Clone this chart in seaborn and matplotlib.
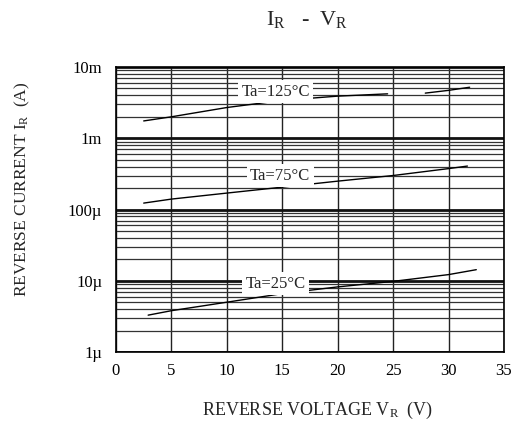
import numpy as np
import pandas as pd
import seaborn as sns
import matplotlib
matplotlib.use("Agg")
import matplotlib.pyplot as plt
from matplotlib.ticker import FixedLocator, LogLocator, NullFormatter

# ---- data ----
v_125 = [2.5, 5, 10, 15, 20, 24.5, 27.9, 30, 31.9]
i_125 = [1.75e-3, 2.0e-3, 2.7e-3, 3.4e-3, 3.9e-3, 4.2e-3, 4.3e-3, 4.7e-3, 5.2e-3]
seg_125 = [0, 0, 0, 0, 0, 0, 1, 1, 1]

v_75 = [2.5, 5, 10, 15, 20, 25, 30, 31.7]
i_75 = [1.23e-4, 1.4e-4, 1.7e-4, 2.06e-4, 2.5e-4, 3.0e-4, 3.75e-4, 4.07e-4]

v_25 = [2.9, 5, 10, 15, 20, 25, 30, 32.5]
i_25 = [3.29e-6, 3.8e-6, 5.0e-6, 6.6e-6, 8.2e-6, 9.8e-6, 1.22e-5, 1.43e-5]

labels = ["Ta=125°C", "Ta=75°C", "Ta=25°C"]
label_pos_v = [14.4, 14.8, 14.4]
label_pos_i = [4.5e-3, 3.0e-4, 9.1e-6]

x_ticks = [0, 5, 10, 15, 20, 25, 30, 35]
y_ticks = [1e-6, 1e-5, 1e-4, 1e-3, 1e-2]
y_ticklabels = ["1µ", "10µ", "100µ", "1m", "10m"]

df = pd.concat([
    pd.DataFrame({"V": v_125, "I": i_125, "series": labels[0], "seg": [f"a{s}" for s in seg_125]}),
    pd.DataFrame({"V": v_75, "I": i_75, "series": labels[1], "seg": "b0"}),
    pd.DataFrame({"V": v_25, "I": i_25, "series": labels[2], "seg": "c0"}),
], ignore_index=True)

sns.set_theme(style="white")
plt.rcParams["font.family"] = ["Liberation Serif", "DejaVu Serif"]
plt.rcParams["mathtext.fontset"] = "custom"
plt.rcParams["mathtext.rm"] = "Liberation Serif"
plt.rcParams["mathtext.it"] = "Liberation Serif"

fig = plt.figure(figsize=(5.22, 4.25), dpi=100)
ax = fig.add_axes([116 / 522, 73 / 425, 388 / 522, 285 / 425])

ax.set_yscale("log")
ax.set_xlim(0, 35)
ax.set_ylim(1e-6, 1e-2)

# grid
ax.set_xticks(x_ticks)
ax.set_xticklabels([str(t) for t in x_ticks])
ax.yaxis.set_major_locator(FixedLocator(y_ticks))
ax.set_yticklabels(y_ticklabels)
ax.yaxis.set_minor_locator(LogLocator(base=10, subs=np.arange(2, 10)))
ax.yaxis.set_minor_formatter(NullFormatter())
ax.grid(True, which="major", axis="x", color="#222222", lw=1.0)
ax.grid(True, which="major", axis="y", color="#111111", lw=2.0)
ax.grid(True, which="minor", axis="y", color="#333333", lw=0.9)
ax.set_axisbelow(True)
ax.tick_params(axis="both", which="both", length=0, labelsize=12, colors="black")
ax.tick_params(axis="x", pad=8)
ax.tick_params(axis="y", pad=10)
for s in ax.spines.values():
    s.set_color("black")
    s.set_linewidth(1.2)

sns.lineplot(data=df, x="V", y="I", hue="series", units="seg", estimator=None,
             palette=["black", "black", "black"], lw=1.0, legend=False, ax=ax, zorder=3)

for lab, xv, yv in zip(labels, label_pos_v, label_pos_i):
    ax.text(xv, yv, lab, ha="center", va="center", fontsize=12, zorder=4,
            bbox=dict(boxstyle="square,pad=0.2", fc="white", ec="none"))

ax.set_xlabel(r"REVERSE VOLTAGE V$_{\mathrm{R}}$  (V)", fontsize=13)
ax.xaxis.set_label_coords(0.52, -58 / 285, transform=ax.transAxes)
ax.xaxis.label.set_va("center")
ax.set_ylabel(r"REVERSE CURRENT I$_{\mathrm{R}}$  (A)", fontsize=12.5)
ax.yaxis.set_label_coords(-0.216, 0.572)
fig.text(307 / 522, 1 - 20 / 425, r"I$_{\mathrm{R}}$   -  V$_{\mathrm{R}}$", ha="center",
         va="center", fontsize=16)

fig.savefig("out.png", dpi=100, facecolor="white")
